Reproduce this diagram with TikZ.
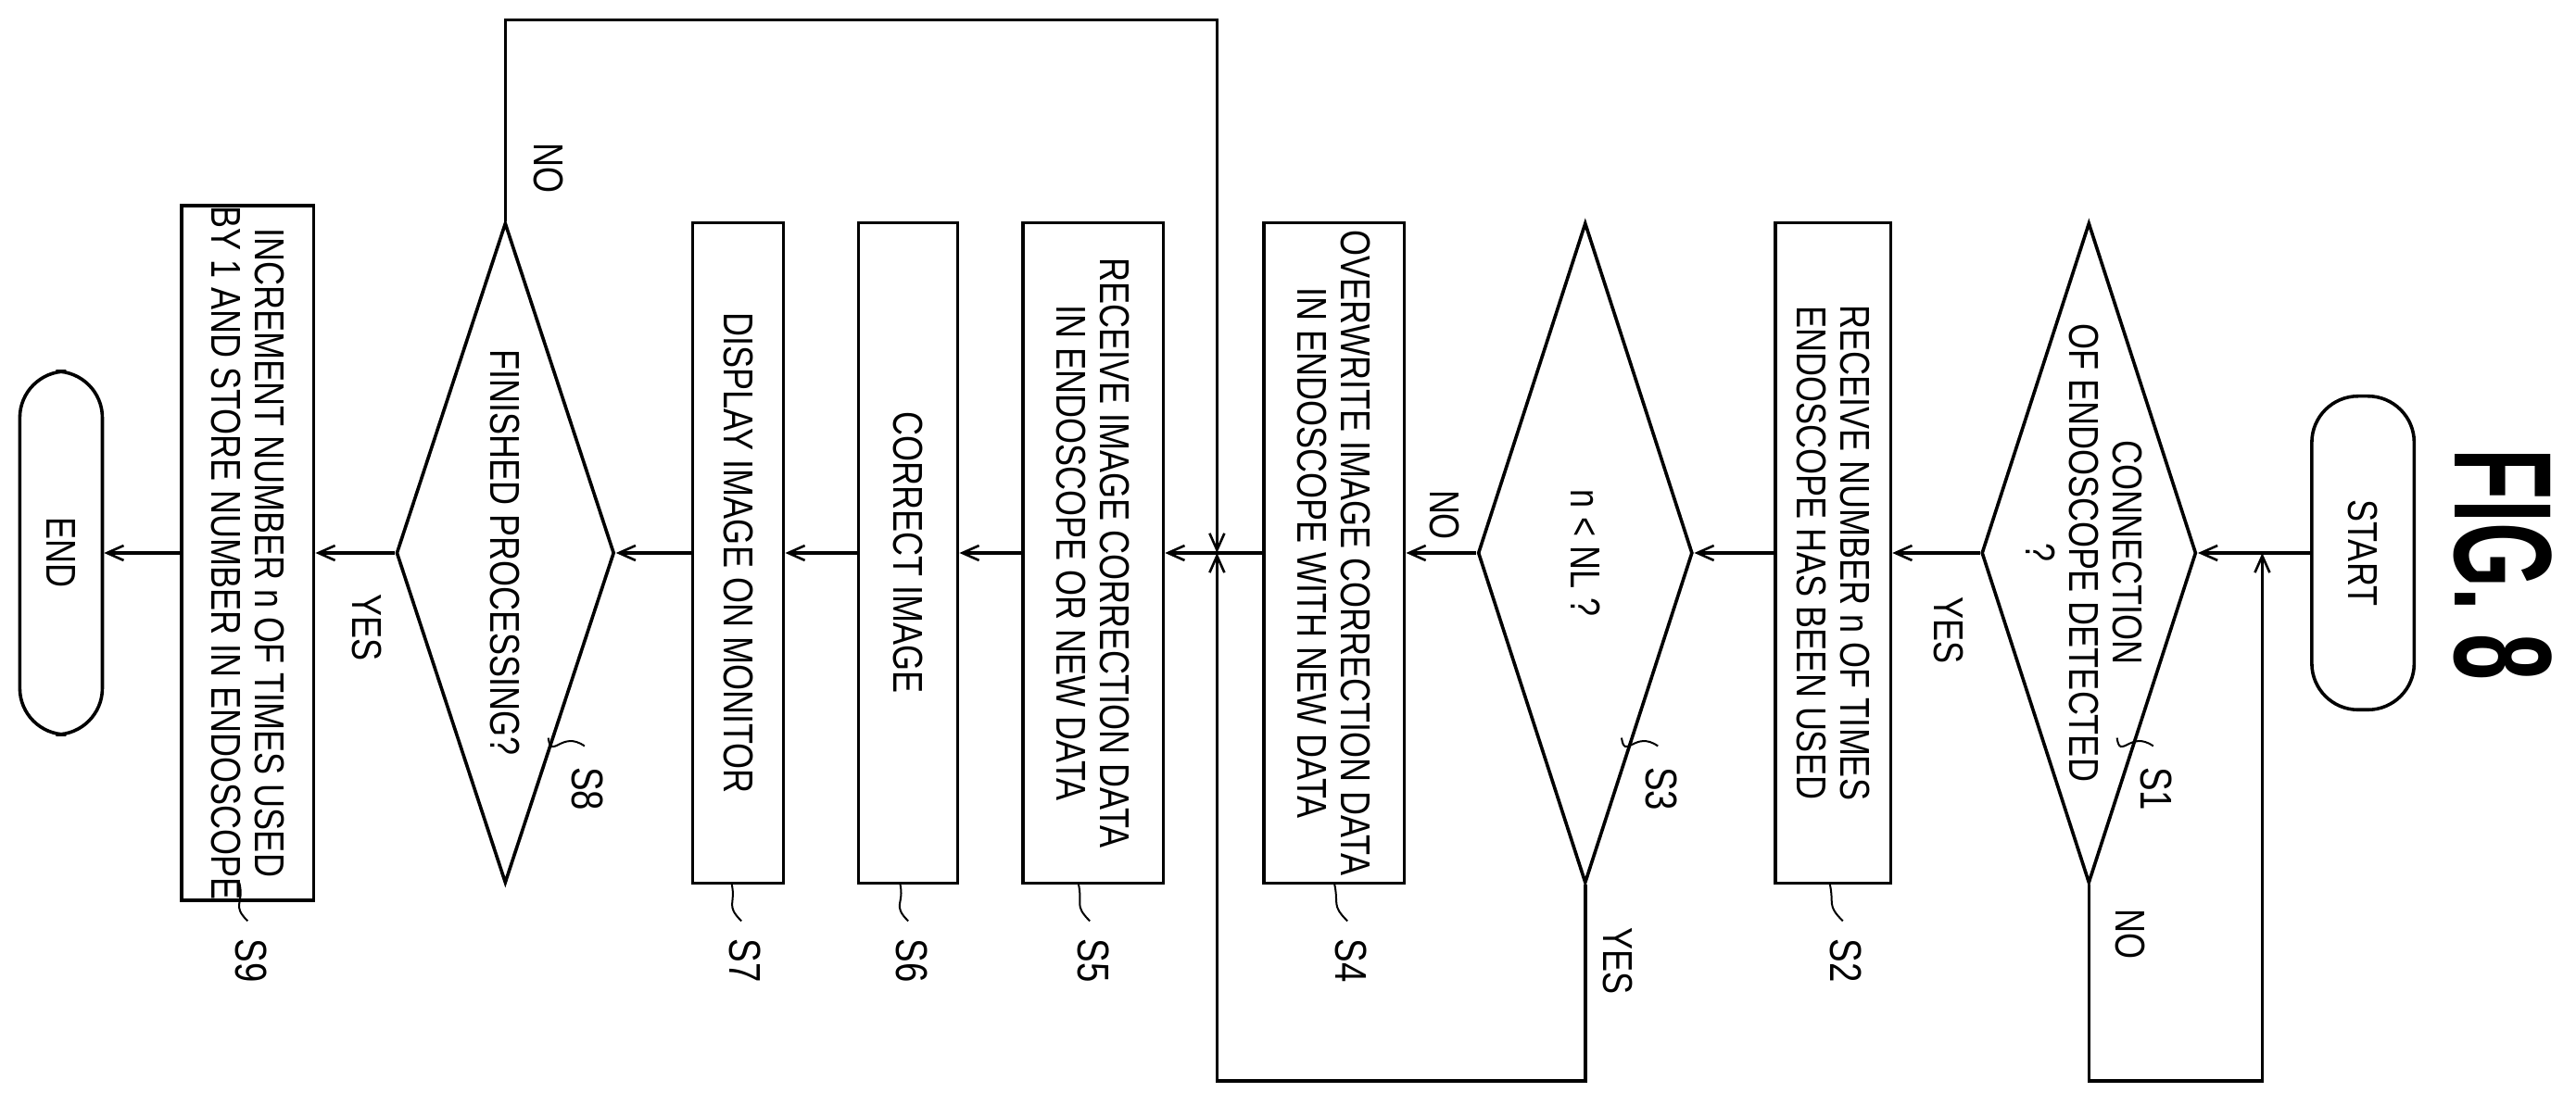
\documentclass[tikz,border=0pt]{standalone}
\usepackage{fontspec}
\setmainfont[FakeStretch=0.8]{Liberation Sans}
\newfontfamily\figfont[FakeStretch=0.6]{Liberation Sans}
\usetikzlibrary{shapes.geometric,arrows.meta}
\begin{document}
\begin{tikzpicture}[x=1.782pt,y=-1.782pt,
  line width=3.6pt,
  every node/.style={font=\fontsize{45}{47}\selectfont},
  box/.style={draw,rectangle,rotate=-90,minimum width={400*1.782pt},align=center,inner sep=0pt},
  dia/.style={draw,diamond,minimum width={130*1.782pt},minimum height={400*1.782pt},inner sep=0pt},
  term/.style={draw,rectangle,rounded corners=50pt,rotate=-90,inner sep=0pt},
  lab/.style={rotate=-90,inner sep=2pt},
  slab/.style={rotate=-90,inner sep=1pt,font=\fontsize{48}{48}\selectfont},
  arr/.style={-{Straight Barb[length=18pt,width=16pt,line width=2.6pt]}},
  sq/.style={line width=2pt}]
\useasboundingbox (0,0) rectangle (1560,669);
\node[rotate=-90,font=\figfont\bfseries\fontsize{150}{150}\selectfont] (fig) at (1516,342) {FIG. 8};
\node[term,minimum width={190*1.782pt},minimum height={62*1.782pt}] (start) at (1431,335) {START};
\node[dia] (s1) at (1265,335) {};
\node[rotate=-90,align=center] (s1t) at (1262,335) {CONNECTION\\OF ENDOSCOPE DETECTED\\?};
\node[box,minimum height={70*1.782pt}] (s2) at (1110,335) {RECEIVE NUMBER n OF TIMES\\ENDOSCOPE HAS BEEN USED};
\node[dia] (s3) at (960,335) {};
\node[rotate=-90] (s3t) at (960,335) {n < NL ?};
\node[box,minimum height={85*1.782pt}] (s4) at (808,335) {OVERWRITE IMAGE CORRECTION DATA\\IN ENDOSCOPE WITH NEW DATA};
\node[box,minimum height={85*1.782pt}] (s5) at (662,335) {RECEIVE IMAGE CORRECTION DATA\\IN ENDOSCOPE OR NEW DATA};
\node[box,minimum height={60*1.782pt}] (s6) at (550,335) {CORRECT IMAGE};
\node[box,minimum height={55*1.782pt}] (s7) at (447,335) {DISPLAY IMAGE ON MONITOR};
\node[dia,minimum width={132*1.782pt}] (s8) at (306,335) {};
\node[rotate=-90] (s8t) at (306,335) {FINISHED PROCESSING?};
\node[box,minimum height={80*1.782pt}] (s9) at (150,335) {INCREMENT NUMBER n OF TIMES USED\\BY 1 AND STORE NUMBER IN ENDOSCOPE};
\node[term,minimum width={220*1.782pt},minimum height={50*1.782pt}] (end) at (37,335) {END};
% coordinates
\coordinate (j) at (737,335);
\coordinate (l1a) at (1265,655); \coordinate (l1b) at (1370,655); \coordinate (l1c) at (1370,335);
\coordinate (l3a) at (960,655); \coordinate (l3b) at (737,655);
\coordinate (l8a) at (306,12); \coordinate (l8b) at (737,12);
% main flow
\draw[arr] (start) -- (s1);
\draw[arr] (s1) -- (s2);
\draw[arr] (s2) -- (s3);
\draw[arr] (s3) -- (s4);
\draw (s4) -- (j);
\draw[arr] (j) -- (s5);
\draw[arr] (s5) -- (s6);
\draw[arr] (s6) -- (s7);
\draw[arr] (s7) -- (s8);
\draw[arr] (s8) -- (s9);
\draw[arr] (s9) -- (end);
% loops
\draw[arr] (s1.south) -- (l1a) -- (l1b) -- (l1c);
\draw[arr] (s3.south) -- (l3a) -- (l3b) -- (j);
\draw[arr] (s8.north) -- (l8a) -- (l8b) -- (j);
% yes/no labels
\node[lab] (y1) at (1180,382) {YES};
\node[lab] (n1) at (1290,566) {NO};
\node[lab] (n3) at (875,312) {NO};
\node[lab] (y3) at (980,582) {YES};
\node[lab] (y8) at (222,380) {YES};
\node[lab] (n8) at (332,102) {NO};
% step labels
\foreach \n/\x/\y/\sx/\sy in {S1/1306/478/1282/447, S3/1006/478/982/447, S8/356/478/332/447}{
  \node[slab] (l\n) at (\x,\y) {\n};
  \coordinate (c\n) at (\sx,\sy);
  \draw[sq] (c\n) .. controls (\sx+2,\sy+14) and (\x-16,\y-36) .. (\x-2,\y-26);
}
\foreach \n/\x/\sx in {S2/1118/1108, S4/818/808, S5/662/653, S6/552/545, S7/451/443, S9/152/145}{
  \node[slab] (l\n) at (\x,582) {\n};
  \coordinate (c\n) at (\sx,535);
  \draw[sq] (c\n) .. controls (\sx+3,548) and (\x-12,548) .. (\x-2,558);
}
\end{tikzpicture}
\end{document}
